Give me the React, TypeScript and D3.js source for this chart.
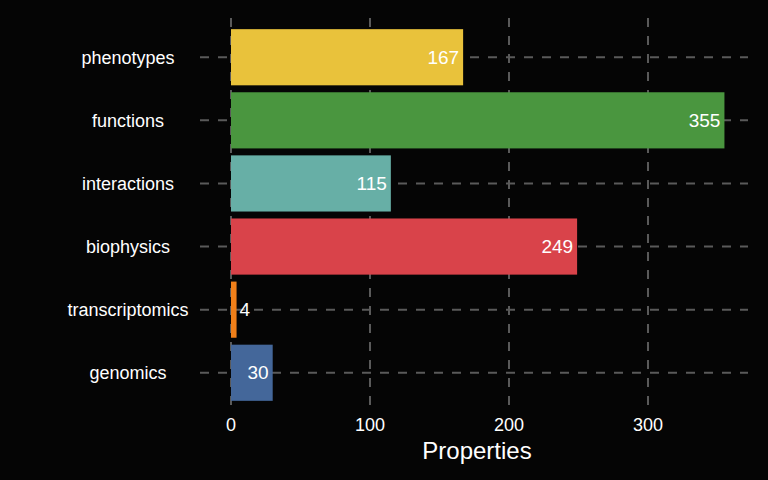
import * as d3 from "d3";

const categories = ["phenotypes", "functions", "interactions", "biophysics", "transcriptomics", "genomics"];
const values = [167, 355, 115, 249, 4, 30];
const colors = ["#E9C23B", "#4A963F", "#67AFA6", "#D9434A", "#F07F19", "#44679A"];
const xTicks = [0, 100, 200, 300];

export default function App() {
  const W = 768, H = 480;
  const x = d3.scaleLinear().domain([0, 100]).range([231, 370]);
  const y = d3.scaleBand().domain(categories).range([26, 404]).paddingInner(0.11).paddingOuter(0.05);
  const font = "Helvetica, Arial, 'Liberation Sans', sans-serif";
  return (
    <svg width={W} height={H} style={{ position: "absolute", left: 0, top: 0, background: "#050505" }} fontFamily={font}>
      <rect width={W} height={H} fill="#050505" />
      {xTicks.map((t) => (
        <line key={t} x1={x(t)} x2={x(t)} y1={18} y2={410} stroke="#5a5a5a" strokeWidth={2} strokeDasharray="9,9" />
      ))}
      {categories.map((c) => {
        const cy = y(c)! + y.bandwidth() / 2;
        return <line key={c} x1={200} x2={748} y1={cy} y2={cy} stroke="#5a5a5a" strokeWidth={2} strokeDasharray="9,9" />;
      })}
      {categories.map((c, i) => {
        const v = values[i];
        const y0 = y(c)!;
        const cy = y0 + y.bandwidth() / 2;
        const inside = v >= 10;
        return (
          <g key={c}>
            <rect x={x(0)} y={y0} width={x(v) - x(0)} height={y.bandwidth()} fill={colors[i]} />
            <text x={inside ? x(v) - 4 : x(v) + 3} y={cy} dy="0.35em" textAnchor={inside ? "end" : "start"} fill="#fff" fontSize={19}>
              {v}
            </text>
            <text x={128} y={cy} dy="0.35em" textAnchor="middle" fill="#fff" fontSize={18}>
              {c}
            </text>
          </g>
        );
      })}
      {xTicks.map((t) => (
        <text key={t} x={x(t)} y={425} dy="0.35em" textAnchor="middle" fill="#fff" fontSize={18}>
          {t}
        </text>
      ))}
      <text x={477} y={451} dy="0.35em" textAnchor="middle" fill="#fff" fontSize={24}>
        Properties
      </text>
    </svg>
  );
}
